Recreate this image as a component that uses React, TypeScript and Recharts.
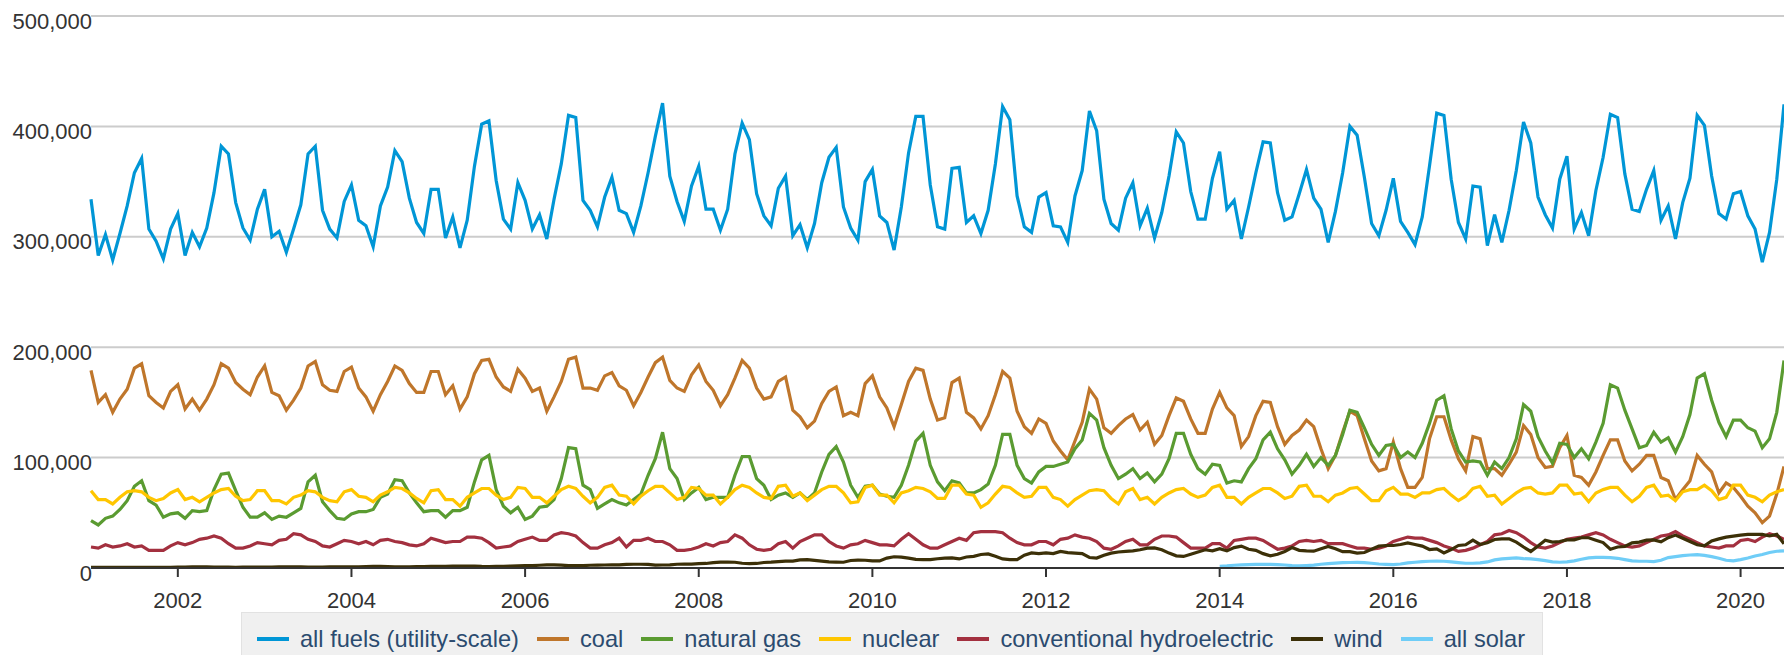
import { LineChart, Line, XAxis, YAxis, CartesianGrid } from "recharts";

// monthly net generation, thousand MWh, Jan 2001 - Jul 2020
const START_YEAR = 2001;

const allFuels = [
  334, 283, 302, 279, 303, 328, 358, 371, 307, 296, 280, 307,
  321, 283, 304, 291, 308, 340, 382, 375, 331, 308, 297, 325,
  343, 300, 305, 286, 307, 329, 375, 382, 324, 307, 299, 332,
  347, 315, 310, 291, 328, 345, 378, 368, 335, 313, 303, 343,
  343, 299, 318, 290, 315, 364, 402, 405, 351, 316, 307, 349,
  333, 307, 320, 298, 334, 366, 410, 408, 333, 324, 309, 336,
  354, 324, 321, 304, 328, 358, 391, 421, 355, 332, 314, 346,
  364, 325, 325, 306, 325, 375, 403, 388, 339, 319, 310, 344,
  355, 301, 311, 290, 312, 349, 372, 381, 327, 308, 297, 350,
  361, 319, 313, 288, 327, 376, 409, 409, 347, 309, 307, 362,
  363, 313, 319, 303, 324, 366, 418, 406, 337, 309, 304, 336,
  340, 310, 309, 295, 337, 360, 414, 396, 334, 312, 306, 335,
  349, 310, 326, 299, 322, 355, 395, 385, 341, 316, 316, 353,
  377, 325, 333, 298, 327, 358, 386, 385, 340, 315, 318, 339,
  361, 335, 325, 295, 323, 358, 400, 392, 354, 312, 301, 324,
  353, 314, 304, 293, 318, 364, 412, 410, 352, 313, 298, 346,
  345, 292, 320, 295, 324, 360, 404, 385, 336, 320, 308, 352,
  373, 307, 322, 301, 342, 372, 411, 408, 357, 325, 323, 343,
  360, 315, 328, 298, 331, 353, 410, 401, 355, 321, 316, 339,
  341, 319, 307, 277, 304, 352, 420,
];

const coal = [
  179, 150, 157, 141, 153, 162, 181, 185, 156, 150, 145, 160,
  166, 144, 153, 143, 153, 166, 185, 181, 168, 162, 157, 173,
  183, 159, 156, 143, 152, 163, 183, 187, 166, 161, 160, 178,
  182, 163, 155, 142, 157, 169, 183, 179, 167, 159, 159, 178,
  178, 157, 165, 144, 155, 176, 188, 189, 173, 164, 160, 180,
  172, 160, 163, 142, 155, 169, 189, 191, 163, 163, 161, 174,
  177, 165, 161, 147, 159, 173, 186, 191, 170, 163, 160, 175,
  184, 169, 161, 147, 157, 172, 188, 181, 163, 153, 155, 169,
  173, 143, 137, 127, 133, 149, 160, 164, 138, 141, 138, 167,
  174, 155, 145, 128, 148, 169, 181, 179, 153, 134, 136, 168,
  172, 141, 136, 126, 138, 157, 178, 172, 142, 128, 122, 135,
  131, 115, 106, 98, 115, 132, 162, 153, 127, 122, 129, 135,
  139, 125, 132, 112, 120, 138, 154, 151, 135, 122, 122, 144,
  159, 145, 138, 110, 119, 138, 151, 150, 128, 112, 120, 125,
  134, 128, 108, 90, 102, 123, 142, 138, 117, 97, 88, 90,
  114, 90, 73, 73, 82, 117, 137, 137, 116, 99, 88, 119,
  117, 90, 90, 84, 94, 105, 129, 121, 100, 91, 92, 109,
  120, 84, 82, 75, 87, 102, 116, 116, 97, 88, 94, 102,
  102, 82, 79, 62, 71, 79, 102, 94, 87, 68, 77, 73,
  65, 56, 50, 41, 47, 67, 92,
];

const naturalGas = [
  43, 39, 45, 47, 53, 61, 74, 79, 61, 57, 46, 49,
  50, 45, 52, 51, 52, 71, 85, 86, 70, 55, 46, 46,
  50, 44, 47, 46, 50, 54, 78, 84, 60, 52, 45, 44,
  49, 51, 51, 53, 64, 67, 80, 79, 68, 59, 51, 52,
  52, 46, 52, 52, 55, 78, 98, 102, 71, 56, 50, 55,
  44, 47, 55, 56, 62, 81, 109, 108, 75, 71, 54, 58,
  62, 59, 57, 62, 67, 84, 99, 123, 90, 81, 62, 68,
  73, 62, 64, 64, 64, 84, 101, 101, 81, 75, 62, 66,
  68, 64, 68, 62, 68, 87, 103, 110, 96, 75, 64, 74,
  75, 67, 65, 64, 75, 93, 115, 122, 93, 78, 70, 79,
  77, 68, 68, 71, 76, 93, 121, 121, 93, 81, 77, 87,
  92, 92, 94, 96, 108, 116, 140, 134, 109, 93, 81, 85,
  90, 81, 86, 78, 85, 99, 122, 122, 103, 90, 85, 94,
  93, 77, 79, 78, 90, 99, 116, 123, 108, 98, 85, 93,
  103, 92, 100, 93, 102, 121, 143, 141, 127, 112, 102, 111,
  112, 100, 105, 100, 113, 131, 152, 156, 126, 106, 96, 97,
  96, 84, 96, 90, 100, 117, 148, 142, 119, 106, 95, 113,
  112, 100, 108, 99, 114, 131, 166, 163, 143, 126, 109, 111,
  123, 114, 118, 105, 119, 139, 172, 176, 152, 132, 119, 134,
  134, 127, 124, 109, 117, 141, 188,
];

const nuclear = [
  70, 62, 62, 58, 64, 69, 70, 69, 64, 61, 63, 68,
  71, 62, 64, 60, 64, 68, 71, 72, 65, 61, 62, 70,
  70, 61, 61, 58, 64, 66, 70, 69, 64, 61, 60, 69,
  71, 65, 64, 60, 66, 69, 73, 72, 68, 63, 59, 70,
  71, 62, 62, 56, 64, 68, 72, 72, 66, 62, 64, 73,
  72, 64, 64, 59, 65, 71, 74, 72, 65, 59, 64, 73,
  75, 66, 65, 58, 65, 70, 74, 74, 68, 62, 64, 73,
  72, 66, 66, 58, 64, 71, 75, 73, 68, 64, 63, 74,
  75, 65, 68, 61, 66, 71, 74, 74, 68, 59, 60, 73,
  75, 66, 66, 59, 68, 70, 73, 72, 69, 63, 63, 75,
  75, 67, 66, 55, 59, 67, 74, 73, 68, 64, 65, 73,
  73, 64, 62, 56, 62, 66, 70, 71, 70, 63, 58, 69,
  72, 62, 64, 58, 64, 68, 71, 72, 67, 64, 66, 73,
  75, 64, 64, 58, 64, 68, 72, 72, 68, 63, 65, 74,
  75, 65, 65, 60, 66, 68, 72, 73, 67, 61, 61, 70,
  73, 67, 67, 64, 68, 68, 71, 72, 66, 61, 65, 72,
  74, 65, 66, 58, 63, 68, 72, 73, 68, 67, 68, 75,
  75, 67, 68, 60, 68, 71, 73, 73, 66, 60, 65, 73,
  75, 65, 66, 61, 69, 71, 71, 75, 70, 62, 64, 75,
  75, 66, 64, 60, 66, 69, 71,
];

const hydro = [
  19, 18, 21, 19, 20, 22, 19, 20, 16, 16, 16, 20,
  23, 21, 23, 26, 27, 29, 27, 22, 18, 18, 20, 23,
  22, 21, 25, 26, 31, 30, 26, 24, 20, 19, 22, 25,
  24, 22, 24, 21, 25, 26, 24, 23, 21, 20, 22, 27,
  25, 23, 24, 24, 28, 28, 27, 23, 18, 19, 20, 24,
  26, 28, 25, 25, 30, 32, 31, 29, 23, 18, 18, 21,
  23, 27, 19, 25, 25, 27, 24, 24, 21, 16, 16, 17,
  19, 22, 20, 23, 24, 30, 27, 21, 17, 16, 17, 22,
  24, 18, 24, 27, 30, 30, 24, 20, 18, 21, 22, 25,
  23, 21, 21, 20, 26, 31, 26, 21, 18, 18, 21, 24,
  27, 25, 32, 33, 33, 33, 32, 27, 23, 21, 21, 24,
  24, 21, 26, 27, 30, 28, 27, 24, 18, 17, 20, 24,
  26, 21, 21, 26, 29, 29, 28, 23, 18, 18, 18, 22,
  22, 18, 25, 26, 27, 27, 25, 21, 17, 18, 20, 24,
  25, 24, 25, 22, 22, 22, 20, 18, 18, 17, 18, 20,
  24, 26, 28, 27, 27, 25, 23, 20, 18, 15, 16, 18,
  21, 24, 30, 31, 34, 32, 28, 23, 19, 18, 20, 23,
  26, 27, 28, 30, 32, 30, 26, 23, 20, 19, 20, 23,
  26, 29, 30, 33, 29, 26, 23, 20, 19, 18, 20, 20,
  25, 26, 24, 28, 31, 29, 26,
];

const wind = [
  0.6, 0.5, 0.6, 0.7, 0.7, 0.6, 0.5, 0.5, 0.5, 0.6, 0.6, 0.6,
  0.8, 0.8, 1.0, 1.1, 1.1, 0.9, 0.8, 0.8, 0.7, 0.8, 0.9, 0.9,
  0.9, 0.8, 1.0, 1.1, 1.1, 1.1, 0.9, 0.8, 0.8, 1.0, 1.0, 1.0,
  1.1, 1.1, 1.3, 1.5, 1.5, 1.3, 1.1, 1.0, 1.1, 1.2, 1.3, 1.4,
  1.4, 1.4, 1.7, 1.8, 1.7, 1.7, 1.4, 1.3, 1.4, 1.6, 1.8, 1.9,
  2.1, 2.1, 2.5, 2.8, 2.8, 2.6, 2.2, 2.2, 2.2, 2.5, 2.6, 2.7,
  2.8, 2.9, 3.2, 3.4, 3.4, 3.2, 2.6, 2.7, 2.8, 3.4, 3.5, 3.6,
  4.0, 4.1, 4.8, 5.3, 5.4, 5.2, 4.3, 4.0, 4.1, 5.0, 5.3, 5.8,
  6.2, 6.3, 7.3, 7.6, 6.9, 6.2, 5.5, 5.3, 5.2, 6.8, 7.2, 7.0,
  6.5, 6.4, 9.0, 10.2, 9.8, 9.0, 7.8, 7.6, 7.6, 8.4, 9.0, 9.1,
  8.2, 10.0, 10.6, 12.2, 12.8, 10.6, 8.2, 7.6, 7.6, 11.6, 13.7, 13.1,
  13.7, 13.0, 15.0, 14.0, 13.5, 13.0, 9.5, 9.0, 11.5, 13.5, 14.5, 15.0,
  15.5, 16.5, 18.0, 18.2, 16.5, 13.5, 11.0, 10.5, 12.5, 14.5, 16.5, 15.5,
  17.5, 15.5, 18.5, 19.8, 17.0, 16.0, 13.0, 11.0, 12.5, 15.0, 18.5, 16.0,
  15.5, 15.2, 17.5, 19.5, 17.5, 14.8, 14.8, 13.5, 14.0, 17.0, 19.8, 20.4,
  20.4, 21.3, 22.8, 21.3, 19.8, 16.7, 17.3, 13.7, 16.7, 20.4, 21.0, 25.2,
  21.3, 22.8, 25.8, 26.4, 26.4, 23.4, 19.0, 15.0, 20.0, 25.2, 23.5, 24.0,
  25.5, 25.5, 27.4, 27.4, 25.2, 23.0, 17.0, 19.0, 19.5, 22.8, 23.4, 25.2,
  25.5, 23.7, 27.5, 29.8, 27.0, 24.0, 21.0, 20.0, 24.5, 26.4, 28.0, 28.9,
  29.8, 30.5, 30.5, 30.4, 29.0, 30.5, 22.0,
];

// all solar is only reported from Jan 2014
const SOLAR_START_YEAR = 2014;
const allSolar = [
  1.6, 1.9, 2.5, 2.8, 3.1, 3.2, 3.3, 3.3, 3.0, 2.7, 2.1, 1.9,
  2.2, 2.6, 3.4, 4.0, 4.5, 4.8, 5.0, 5.1, 4.8, 4.3, 3.6, 3.3,
  3.0, 3.6, 4.6, 5.2, 5.8, 6.1, 6.3, 6.1, 5.5, 4.9, 4.3, 4.3,
  4.6, 5.5, 7.3, 8.2, 8.8, 9.1, 8.5, 8.2, 7.6, 6.7, 5.5, 5.2,
  5.5, 6.4, 7.9, 9.1, 9.7, 9.7, 9.4, 8.8, 7.6, 6.4, 6.1, 6.1,
  5.8, 7.0, 9.4, 10.3, 11.2, 11.8, 12.1, 11.5, 10.3, 8.8, 7.0, 6.4,
  7.6, 9.1, 10.9, 12.2, 14.0, 15.2, 15.5,
];

const tickYears = [2002, 2004, 2006, 2008, 2010, 2012, 2014, 2016, 2018, 2020];
const yTicks = [0, 100, 200, 300, 400, 500];

const series = [
  { key: "allFuels", name: "all fuels (utility-scale)", color: "#0096d6" },
  { key: "coal", name: "coal", color: "#bf762b" },
  { key: "naturalGas", name: "natural gas", color: "#5a9b31" },
  { key: "nuclear", name: "nuclear", color: "#ffc600" },
  { key: "hydro", name: "conventional hydroelectric", color: "#a3303f" },
  { key: "wind", name: "wind", color: "#3c3008" },
  { key: "allSolar", name: "all solar", color: "#6fcdf7" },
];

const solarOffset = (SOLAR_START_YEAR - START_YEAR) * 12;
const data = allFuels.map((v, i) => ({
  i,
  allFuels: v,
  coal: coal[i],
  naturalGas: naturalGas[i],
  nuclear: nuclear[i],
  hydro: hydro[i],
  wind: wind[i],
  allSolar: i >= solarOffset ? allSolar[i - solarOffset] : null,
}));

const FONT = '"Liberation Sans", Arial, Helvetica, sans-serif';

const fmtY = (v: number) => (v === 0 ? "0" : (v * 1000).toLocaleString("en-US"));

function YTick(props: any) {
  const { x, y, payload } = props;
  return (
    <text x={x + 1} y={y + 12.5} textAnchor="end" fontSize={22} fill="#333" fontFamily={FONT}>
      {fmtY(payload.value)}
    </text>
  );
}

function XTick(props: any) {
  const { x, payload } = props;
  return (
    <text x={x} y={607.5} textAnchor="middle" fontSize={22} fill="#333" fontFamily={FONT}>
      {START_YEAR + payload.value / 12}
    </text>
  );
}

function LegendBox() {
  return (
    <div
      style={{
        position: "absolute",
        left: 241,
        top: 612,
        width: 1302,
        height: 60,
        background: "#f0f0f0",
        border: "1px solid #e2e2e2",
        boxSizing: "border-box",
      }}
    >
      <div
        style={{
          position: "absolute",
          left: 15,
          top: 12,
          height: 28,
          display: "flex",
          alignItems: "center",
          whiteSpace: "nowrap",
          fontFamily: FONT,
          fontSize: 23.6,
          lineHeight: "28px",
          color: "#2b4b6f",
        }}
      >
        {series.map((s, k) => (
          <div
            key={s.key}
            style={{ display: "flex", alignItems: "center", marginLeft: k === 0 ? 0 : 18 }}
          >
            <span
              style={{ display: "inline-block", width: 32, height: 4, background: s.color, marginRight: 11 }}
            />
            <span>{s.name}</span>
          </div>
        ))}
      </div>
    </div>
  );
}

export default function App() {
  return (
    <div
      style={{
        position: "absolute",
        left: 0,
        top: 0,
        width: 1784,
        height: 655,
        overflow: "hidden",
        background: "#fff",
      }}
    >
      <LineChart width={1784} height={655} data={data} margin={{ top: 16, right: 0, bottom: 0, left: 0 }}>
        <CartesianGrid vertical={false} stroke="#cccccc" strokeWidth={2} />
        <XAxis
          dataKey="i"
          type="number"
          domain={[0, allFuels.length - 1]}
          ticks={tickYears.map((y) => (y - START_YEAR) * 12)}
          interval={0}
          height={87}
          axisLine={{ stroke: "#333", strokeWidth: 2 }}
          tickLine={{ stroke: "#333", strokeWidth: 2 }}
          tickSize={9}
          tickMargin={0}
          tick={XTick}
        />
        <YAxis
          width={91}
          domain={[0, 500]}
          ticks={yTicks}
          interval={0}
          axisLine={false}
          tickLine={false}
          tickSize={0}
          tickMargin={0}
          tick={YTick}
        />
        {series.map((s) => (
          <Line
            key={s.key}
            type="linear"
            dataKey={s.key}
            name={s.name}
            stroke={s.color}
            strokeWidth={3.2}
            dot={false}
            activeDot={false}
            isAnimationActive={false}
          />
        ))}
      </LineChart>
      <LegendBox />
    </div>
  );
}
